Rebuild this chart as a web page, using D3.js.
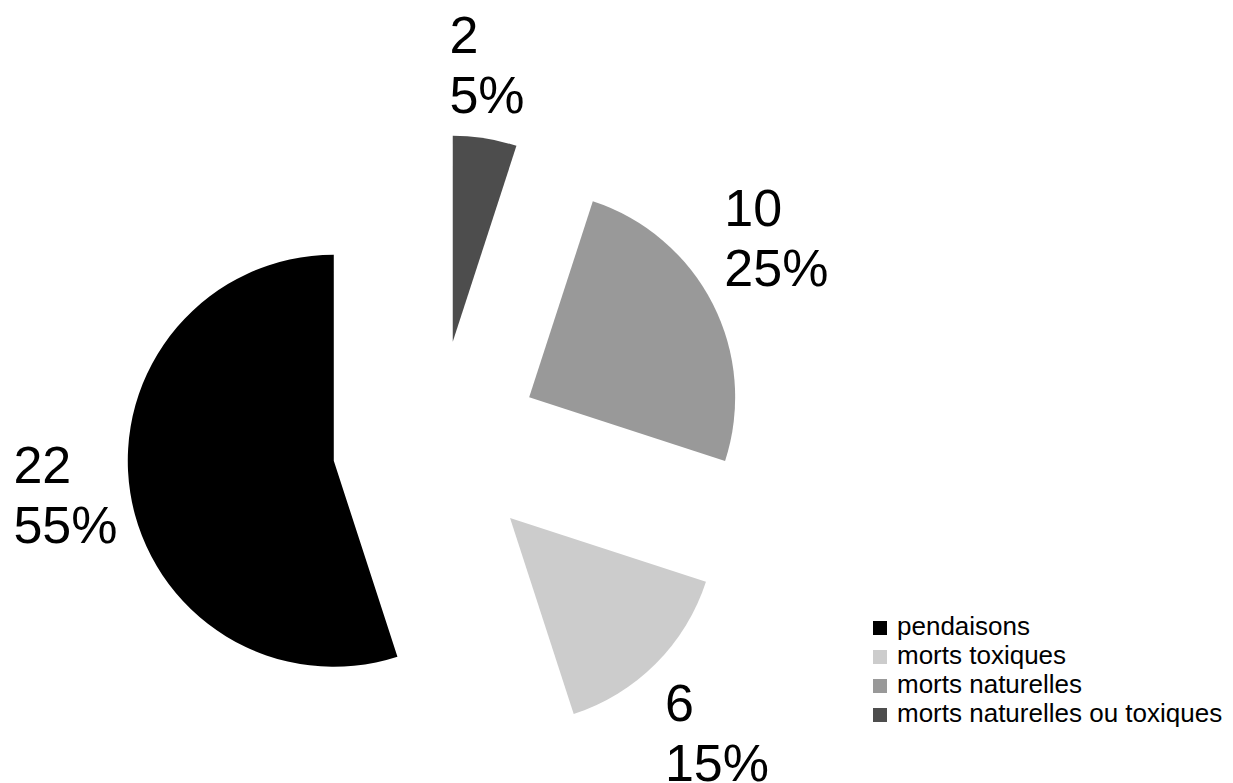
<!DOCTYPE html>
<html><head><meta charset="utf-8">
<script src="https://cdn.jsdelivr.net/npm/d3@7"></script>
<style>body{margin:0;background:#fff}svg{display:block}</style>
</head><body>
<svg id="c" width="1233" height="783"></svg>
<script>
const categories = ["pendaisons", "morts toxiques", "morts naturelles", "morts naturelles ou toxiques"];
const values = [22, 6, 10, 2];
const colors = ["#000000", "#cccccc", "#999999", "#4d4d4d"];

const W = 1233, H = 783;
const cx = 436.5, cy = 444.5, R = 206, explode = 104, labelR = 219;
const font = "'Liberation Sans', Arial, sans-serif";
const svg = d3.select("#c");
const total = d3.sum(values);

const pie = d3.pie().sort(null).startAngle(0).endAngle(-2 * Math.PI);
const arcs = pie(values);
const arc = d3.arc().innerRadius(0).outerRadius(R);

const g = svg.append("g").attr("transform", `translate(${cx},${cy})`);
arcs.forEach((a, i) => {
  const mid = (a.startAngle + a.endAngle) / 2;
  const ux = Math.sin(mid), uy = -Math.cos(mid);
  const ox = ux * explode, oy = uy * explode;
  g.append("path").attr("d", arc(a)).attr("fill", colors[i])
    .attr("transform", `translate(${ox},${oy})`);

  const lines = [String(values[i]), Math.round(values[i] / total * 100) + "%"];
  const fs = 52, lh = 60;
  const px = cx + ox + ux * labelR, py = cy + oy + uy * labelR;
  const t = svg.append("text").attr("font-family", font).attr("font-size", fs).attr("fill", "#000");
  lines.forEach((s, k) => t.append("tspan").attr("x", 0).attr("y", k * lh).text(s));
  const bb = t.node().getBBox();
  const w = bb.width, h = lines.length * lh;
  const th = 0.38;
  const fx = ux > th ? 0 : ux < -th ? 1 : 0.5;
  const fy = uy > th ? 0 : uy < -th ? 1 : 0.5;
  const left = px - w * fx, top = py - h * fy;
  const firstBase = top + (lh - fs * 1.117) / 2 + fs * 0.905;
  t.attr("transform", `translate(${left},${firstBase})`);
});

const lg = svg.append("g").attr("transform", "translate(873,635)");
categories.forEach((c, i) => {
  const row = lg.append("g").attr("transform", `translate(0,${i * 29})`);
  row.append("rect").attr("x", 0).attr("y", -14).attr("width", 14).attr("height", 14).attr("fill", colors[i]);
  row.append("text").attr("x", 24).attr("y", 0).attr("font-family", font).attr("font-size", 26).attr("fill", "#000").text(c);
});
</script>
</body></html>
